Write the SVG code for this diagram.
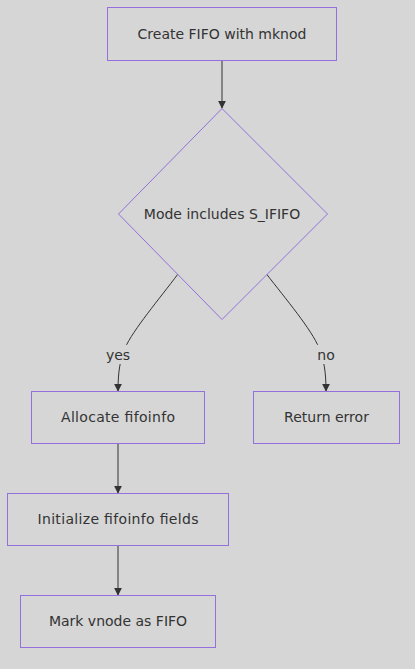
<svg xmlns="http://www.w3.org/2000/svg" width="415" height="669" viewBox="0 0 415 669">
<defs>
<style>
.node rect,.node polygon{fill:#d6d6d6;stroke:#9370db;stroke-width:1}
.node text,.lbl text{font-family:"DejaVu Sans",Verdana,sans-serif;font-size:14px;fill:#333;text-anchor:middle}
.edge{fill:none;stroke:#333;stroke-width:1}
.lbl rect{fill:#d6d6d6}
</style>
<marker id="arr" viewBox="0 0 10 10" refX="9" refY="5" markerWidth="8" markerHeight="8" markerUnits="userSpaceOnUse" orient="auto">
<path d="M0,0 L10,5 L0,10 z" fill="#333"/>
</marker>
</defs>
<rect width="415" height="669" fill="#d6d6d6"/>
<g id="connectors">
<path class="edge" d="M222,61 L222,108" marker-end="url(#arr)"/>
<path class="edge" d="M178,274 C160,298 133,330 125,348 C120,360 118,372 118,391" marker-end="url(#arr)"/>
<path class="edge" d="M266.5,274 C285,298 312,330 319,348 C324,360 326,372 326,391" marker-end="url(#arr)"/>
<path class="edge" d="M118,444 L118,493" marker-end="url(#arr)"/>
<path class="edge" d="M118,546 L118,595" marker-end="url(#arr)"/>
</g>
<g id="label-yes" class="lbl"><rect x="105" y="345" width="26" height="19"/><text x="118" y="360">yes</text></g>
<g id="label-no" class="lbl"><rect x="316" y="345" width="21" height="19"/><text x="326" y="360">no</text></g>
<g id="A" class="node"><rect x="107.5" y="7.5" width="229" height="53"/><text x="222" y="39">Create FIFO with mknod</text></g>
<g id="B" class="node"><polygon points="222,108.5 327.5,214 222,319.5 118.5,214"/><text x="222" y="219">Mode includes S_IFIFO</text></g>
<g id="C" class="node"><rect x="31.5" y="391.5" width="173" height="52"/><text x="118" y="422" textLength="114" lengthAdjust="spacing">Allocate fifoinfo</text></g>
<g id="D" class="node"><rect x="253.5" y="391.5" width="146" height="52"/><text x="326.5" y="422">Return error</text></g>
<g id="E" class="node"><rect x="7.5" y="493.5" width="221" height="52"/><text x="118" y="524" textLength="161" lengthAdjust="spacing">Initialize fifoinfo fields</text></g>
<g id="F" class="node"><rect x="20.5" y="595.5" width="195" height="52"/><text x="118" y="626">Mark vnode as FIFO</text></g>
</svg>
